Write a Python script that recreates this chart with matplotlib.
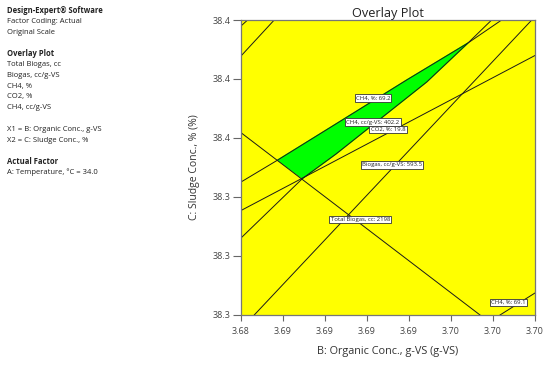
import numpy as np
import matplotlib
matplotlib.use("Agg")
import matplotlib.pyplot as plt

plt.rcParams['font.family'] = ['Open Sans', 'DejaVu Sans']

# axis ranges and tick labels
x_min, x_max = 3.680, 3.700
y_min, y_max = 38.30, 38.40
x_tick_labels = ['3.68', '3.69', '3.69', '3.69', '3.69', '3.70', '3.70', '3.70']
y_tick_labels = ['38.3', '38.3', '38.3', '38.4', '38.4', '38.4']

# contour lines (x = organic conc., y = sludge conc.)
ch4_pct_692_x = [3.68000, 3.68250, 3.68605, 3.69127, 3.69544, 3.69773]
ch4_pct_692_y = [38.34508, 38.35254, 38.36350, 38.37966, 38.39220, 38.40000]
ch4_cc_4022_x = [3.68000, 3.68420, 3.68646, 3.68946, 3.69263, 3.69544, 3.69705]
ch4_cc_4022_y = [38.32610, 38.34634, 38.35458, 38.36644, 38.37898, 38.39220, 38.40000]
co2_198_x = [3.68000, 3.70000]
co2_198_y = [38.33542, 38.38797]
biogas_5935_x = [3.68090, 3.69978]
biogas_5935_y = [38.30000, 38.40000]
total_2198_x = [3.68000, 3.69626]
total_2198_y = [38.36180, 38.30000]
ch4_pct_691_x = [3.69762, 3.70000]
ch4_pct_691_y = [38.30000, 38.30746]
# unlabeled lines in the top-left corner
extra1_x = [3.68000, 3.68045]
extra1_y = [38.39797, 38.40000]
extra2_x = [3.68000, 3.68226]
extra2_y = [38.38780, 38.40000]

# contour labels: text, x, y
labels = [
    ('CH4, %: 69.2', 3.68898, 38.37356),
    ('CH4, cc/g-VS: 402.2', 3.68898, 38.36542),
    ('CO2, %: 19.8', 3.69000, 38.36281),
    ('Biogas, cc/g-VS: 593.5', 3.69027, 38.35085),
    ('Total Biogas, cc: 2198', 3.68812, 38.33247),
    ('CH4, %: 69.1', 3.69821, 38.30420),
]

side_text = [
    ('Design-Expert® Software', True),
    ('Factor Coding: Actual', False),
    ('Original Scale', False),
    ('', False),
    ('Overlay Plot', True),
    ('Total Biogas, cc', False),
    ('Biogas, cc/g-VS', False),
    ('CH4, %', False),
    ('CO2, %', False),
    ('CH4, cc/g-VS', False),
    ('', False),
    ('X1 = B: Organic Conc., g-VS', False),
    ('X2 = C: Sludge Conc., %', False),
    ('', False),
    ('Actual Factor', True),
    ('A: Temperature, °C = 34.0', False),
]

fig = plt.figure(figsize=(5.5, 3.66), dpi=100)
ax = fig.add_axes([241/550, 1-315/366, 294/550, 295/366])
ax.set_facecolor('#FFFF00')

# green feasible region: between the two CH4 contours, above total biogas line
poly_x = ch4_pct_692_x[1:5] + ch4_cc_4022_x[1:5][::-1]
poly_y = ch4_pct_692_y[1:5] + ch4_cc_4022_y[1:5][::-1]
ax.fill(poly_x, poly_y, color='#00FF00', zorder=1)

lines = [(ch4_pct_692_x, ch4_pct_692_y), (ch4_cc_4022_x, ch4_cc_4022_y),
         (co2_198_x, co2_198_y), (biogas_5935_x, biogas_5935_y),
         (total_2198_x, total_2198_y), (ch4_pct_691_x, ch4_pct_691_y),
         (extra1_x, extra1_y), (extra2_x, extra2_y)]
for lx, ly in lines:
    ax.plot(lx, ly, color='#1a1a1a', linewidth=0.7, zorder=2)

for txt, tx, ty in labels:
    ax.text(tx, ty, txt, fontsize=4.3, ha='center', va='center', color='#222222', zorder=3,
            bbox=dict(boxstyle='square,pad=0.2', fc='white', ec='#333333', lw=0.6))

ax.set_xlim(x_min, x_max)
ax.set_ylim(y_min, y_max)
ax.set_xticks(np.linspace(x_min, x_max, len(x_tick_labels)))
ax.set_xticklabels(x_tick_labels)
ax.set_yticks(np.linspace(y_min, y_max, len(y_tick_labels)))
ax.set_yticklabels(y_tick_labels)
ax.tick_params(axis='x', length=4, width=0.8, color='#666666', labelsize=6.5, labelcolor='#444444', pad=5)
ax.tick_params(axis='y', length=5.5, width=0.8, color='#666666', labelsize=6.5, labelcolor='#444444', pad=2)
for sp in ax.spines.values():
    sp.set_color('#777777')
    sp.set_linewidth(0.9)

ax.set_title('Overlay Plot', fontsize=9.2, color='#222222', pad=2)
ax.set_xlabel('B: Organic Conc., g-VS (g-VS)', fontsize=7.8, color='#333333', labelpad=7)
ax.set_ylabel('C: Sludge Conc., % (%)', fontsize=7.5, color='#333333', labelpad=9)

y0 = 1 - 10.5/366
for txt, bold in side_text:
    fig.text(7/550, y0, txt, fontsize=5.5, fontweight='bold' if bold else 'normal',
             color='#222222', va='center', ha='left')
    y0 -= 10.8/366

fig.savefig('out.png', dpi=100)
